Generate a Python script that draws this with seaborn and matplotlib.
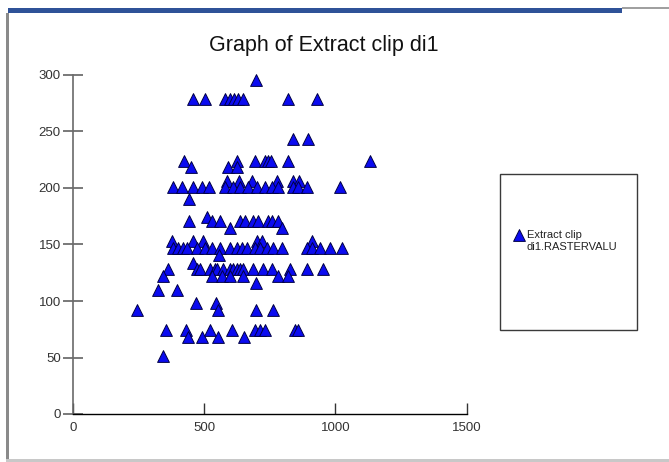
import numpy as np
import pandas as pd
import seaborn as sns
import matplotlib.pyplot as plt
from matplotlib.patches import Rectangle

# values, grouped by the y level they sit on
y_levels = [296, 279, 243, 224, 219, 206, 201, 190, 174, 171, 165, 153, 147,
            141, 134, 128, 122, 116, 110, 98, 92, 74, 68, 51]
x_by_level = [
    [698],
    [458, 504, 580, 599, 614, 629, 648, 820, 930],
    [838, 896],
    [424, 625, 694, 732, 744, 755, 820, 1132],
    [451, 592, 625],
    [588, 634, 683, 778, 839, 861],
    [382, 417, 458, 493, 520, 580, 611, 637, 668, 702, 732, 759, 782, 839, 858, 892, 1018],
    [443],
    [512],
    [443, 531, 561, 637, 656, 687, 706, 744, 759, 782],
    [599, 797],
    [379, 458, 496, 702, 721, 911],
    [382, 401, 420, 435, 473, 504, 531, 561, 599, 626, 645, 664, 694, 713, 740,
     763, 797, 892, 911, 941, 979, 1025],
    [558],
    [458],
    [363, 473, 485, 523, 542, 549, 572, 599, 611, 626, 637, 649, 687, 725, 759,
     828, 892, 953],
    [344, 531, 569, 599, 649, 782, 820],
    [698],
    [325, 397],
    [470, 546],
    [245, 554, 698, 763],
    [355, 431, 523, 607, 694, 713, 732, 847, 858],
    [439, 493, 553, 652],
    [344],
]
x_ticks = [0, 500, 1000, 1500]
y_ticks = [0, 50, 100, 150, 200, 250, 300]
title = "Graph of Extract clip di1"
label_line1 = "Extract clip"
label_line2 = "di1.RASTERVALU"

xs, ys = [], []
for lvl, row in zip(y_levels, x_by_level):
    xs.extend(row)
    ys.extend([lvl] * len(row))
df = pd.DataFrame({"x": xs, "y": ys})

sns.set_style("white")
plt.rcParams['font.family'] = ['Liberation Sans', 'DejaVu Sans']

W, H = 669, 462
fig = plt.figure(figsize=(W / 100, H / 100), dpi=100)
ax = fig.add_axes([72.7 / W, 1 - 414 / H, 394 / W, 339 / H])

sns.scatterplot(data=df, x="x", y="y", marker="^", s=72, color="#0b0bf0",
                edgecolor="#000045", linewidth=0.7, ax=ax, label=label_line1,
                clip_on=False, zorder=3)

ax.set_xlim(0, 1500)
ax.set_ylim(0, 300)
ax.set_xticks(x_ticks)
ax.set_yticks(y_ticks)
ax.set_xlabel("")
ax.set_ylabel("")
for s in ["top", "right"]:
    ax.spines[s].set_visible(False)
ax.spines["left"].set_color("#6a6a6a")
ax.spines["left"].set_linewidth(1.2)
ax.spines["bottom"].set_color("#000000")
ax.spines["bottom"].set_linewidth(1.0)
ax.tick_params(axis="y", direction="inout", length=15, width=1.1, color="#555555",
               pad=1, labelsize=9.5, labelcolor="#333333", left=True)
ax.tick_params(axis="x", direction="in", length=8, width=1.0, color="#333333",
               pad=6, labelsize=9.5, labelcolor="#333333", bottom=True)

fig.text(324 / W, 1 - 45 / H, title, ha="center", va="center", fontsize=15.5,
         color="#111111")

# legend box: first line with the marker, second line under it
leg = ax.legend(loc="center left", bbox_to_anchor=(508 / W, 1 - 235 / H),
                bbox_transform=fig.transFigure, frameon=False, fontsize=8,
                handlelength=0.9, handletextpad=0.3, borderpad=0, markerscale=1.0)
for t in leg.get_texts():
    t.set_color("#222222")
fig.canvas.draw()
tb = leg.get_texts()[0].get_window_extent()
fig.text(tb.x0 / W, ((tb.y0 + tb.y1) / 2 - 12) / H, label_line2, ha="left",
         va="center", fontsize=8, color="#222222")
fig.add_artist(Rectangle((500 / W, 1 - 330 / H), 137 / W, 156 / H,
                         transform=fig.transFigure, fill=False,
                         edgecolor="#3a3a3a", lw=1.0))

# window frame bits from the screenshot
fig.add_artist(Rectangle((8 / W, 1 - 13 / H), 614 / W, 5 / H,
                         transform=fig.transFigure, color="#2f5298", lw=0))
fig.add_artist(Rectangle((622 / W, 1 - 9 / H), 47 / W, 2 / H,
                         transform=fig.transFigure, color="#a0a0a0", lw=0))
fig.add_artist(Rectangle((6 / W, 1 - 459 / H), 3 / W, 446 / H,
                         transform=fig.transFigure, color="#8a8a8a", lw=0))
fig.add_artist(Rectangle((6 / W, 0), 663 / W, 3 / H,
                         transform=fig.transFigure, color="#c8c8c8", lw=0))

fig.savefig("out.png", dpi=100)
